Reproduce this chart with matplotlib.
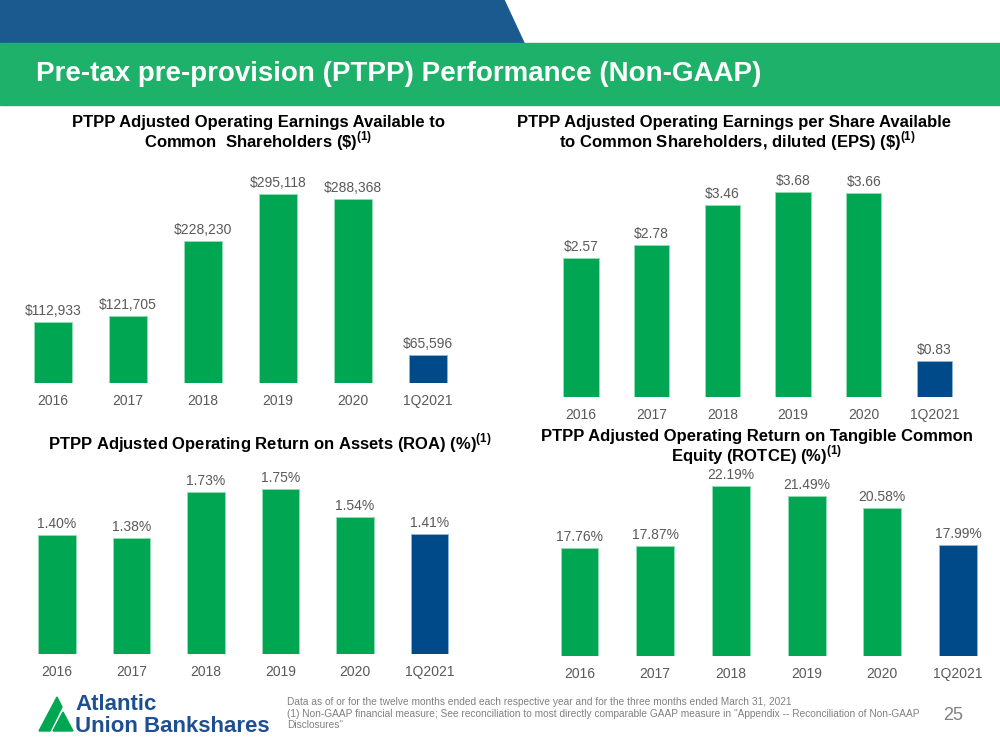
import matplotlib
matplotlib.use('Agg')
import matplotlib.pyplot as plt
from matplotlib.patches import Polygon, Rectangle

plt.rcParams['font.family'] = ['Liberation Sans', 'DejaVu Sans']
plt.rcParams['mathtext.fontset'] = 'custom'
plt.rcParams['mathtext.rm'] = 'Liberation Sans'
plt.rcParams['mathtext.bf'] = 'Liberation Sans:bold'

# data
periods = ['2016', '2017', '2018', '2019', '2020', '1Q2021']
earnings = [112933, 121705, 228230, 295118, 288368, 65596]
eps = [2.57, 2.78, 3.46, 3.68, 3.66, 0.83]
roa = [1.40, 1.38, 1.73, 1.75, 1.54, 1.41]
rotce = [17.76, 17.87, 22.19, 21.49, 20.58, 17.99]

GREEN = '#00a651'
BLUE = '#004a8a'
GRAY = '#595959'
W, H = 1000, 750

fig = plt.figure(figsize=(10, 7.5), dpi=100)


def px_axes(left, right, base, top):
    # pixel box -> figure fraction
    return fig.add_axes([left / W, 1 - base / H, (right - left) / W, (base - top) / H])


def panel(left, right, base, top, ymin, ppu, values, labels):
    ax = px_axes(left, right, base, top)
    colors = [GREEN] * (len(values) - 1) + [BLUE]
    edges = ['#8fdcb5'] * (len(values) - 1) + ['#8fb4d8']
    bars = ax.bar(range(len(values)), values, width=0.5, color=colors,
                  edgecolor=edges, linewidth=0.7)
    ax.bar_label(bars, labels=labels, padding=3, fontsize=10, color=GRAY)
    ax.set_xlim(-0.5, len(values) - 0.5)
    ax.set_ylim(ymin, ymin + (base - top) / ppu)
    ax.set_xticks(range(len(values)))
    ax.set_xticklabels(periods, fontsize=10, color=GRAY)
    ax.tick_params(axis='x', length=0, pad=8)
    ax.set_yticks([])
    for s in ax.spines.values():
        s.set_visible(False)
    ax.patch.set_alpha(0)
    return ax


panel(15.5, 465.5, 383, 160, 25680, 7.01e-4, earnings,
      ['${:,.0f}'.format(v) for v in earnings])
panel(545.7, 969.8, 397, 170, 0.223, 59.3, eps,
      ['${:.2f}'.format(v) for v in eps])
panel(19.75, 466.75, 654, 460, 0.504, 132.4, roa,
      ['{:.2f}%'.format(v) for v in roa])
panel(541.6, 995.9, 656, 470, 10.04, 14.0, rotce,
      ['{:.2f}%'.format(v) for v in rotce])

# header bands
bg = fig.add_axes([0, 0, 1, 1], zorder=-1)
bg.set_xlim(0, W)
bg.set_ylim(H, 0)
bg.axis('off')
bg.add_patch(Polygon([(0, 0), (504, 0), (524, 43), (0, 43)], color='#1b5a8f'))
bg.add_patch(Rectangle((0, 43), W, 62, color='#1db169'))
bg.text(36, 74, 'Pre-tax pre-provision (PTPP) Performance (Non-GAAP)',
        color='white', fontsize=20, fontweight='bold', va='center')

# logo
bg.add_patch(Polygon([(39, 731), (57, 697), (62, 707), (50, 731)], color='#00a651'))
bg.add_patch(Polygon([(53, 731), (63, 712), (73, 731)], color='#00a651'))
bg.text(75, 705, 'Atlantic', color='#1d4f91', fontsize=16, fontweight='bold', va='center')
bg.text(75, 727, 'Union Bankshares', color='#1d4f91', fontsize=16, fontweight='bold', va='center')

# panel titles
sup = r'$^{\mathbf{(1)}}$'
tkw = dict(fontsize=12, fontweight='bold', ha='center', va='center')
bg.text(258, 122, 'PTPP Adjusted Operating Earnings Available to', **tkw)
bg.text(258, 141, r'Common  Shareholders (\$)' + sup, **tkw)
bg.text(734, 122, 'PTPP Adjusted Operating Earnings per Share Available', **tkw)
bg.text(737, 141, r'to Common Shareholders, diluted (EPS) (\$)' + sup, **tkw)
bg.text(270, 443, r'PTPP Adjusted Operating Return on Assets (ROA) (%)' + sup, **tkw)
bg.text(757, 436, 'PTPP Adjusted Operating Return on Tangible Common', **tkw)
bg.text(757, 455, r'Equity (ROTCE) (%)' + sup, **tkw)

# footer
bg.text(287, 697, 'Data as of or for the twelve months ended each respective year and for the three months ended March 31, 2021\n'
        '(1) Non-GAAP financial measure; See reconciliation to most directly comparable GAAP measure in "Appendix -- Reconciliation of Non-GAAP\n'
        'Disclosures"', fontsize=7.3, color='#808080', va='top', linespacing=1.2)
bg.text(943, 715, '25', fontsize=13, color='#808080', va='center')

fig.savefig('out.png', dpi=100)
